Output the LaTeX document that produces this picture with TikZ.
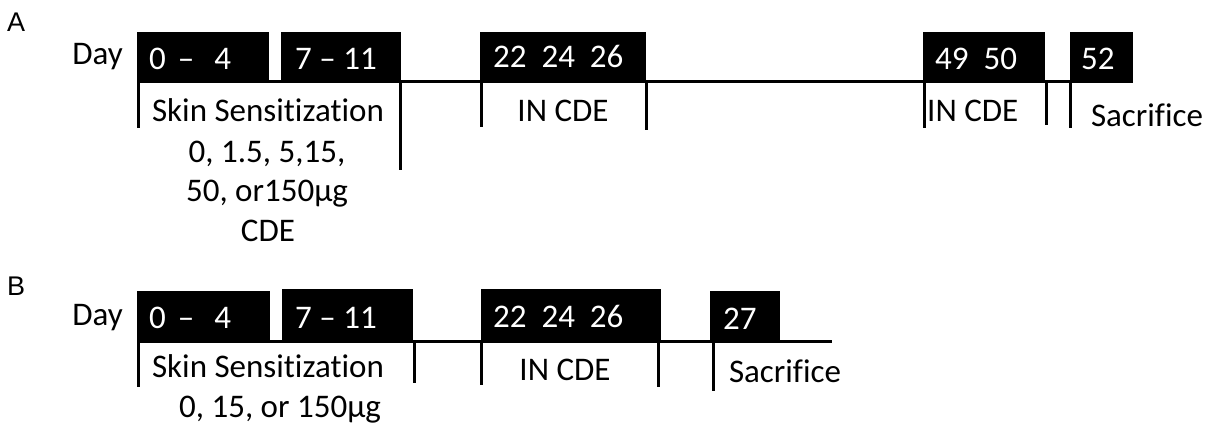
\documentclass[tikz,border=0pt]{standalone}
\usepackage{fontspec}
\setmainfont{Carlito}[Ligatures=NoCommon]
\newfontfamily\labfont{Liberation Sans}
\begin{document}
\begin{tikzpicture}[x=1pt,y=-1pt,
  blk/.style={fill=black},
  tl/.style={line width=3pt},
  tk/.style={line width=3pt},
  wt/.style={text=white,font=\fontsize{33}{36}\selectfont,anchor=base west,inner sep=0pt},
  bt/.style={font=\fontsize{33}{36}\selectfont,anchor=base,inner sep=0pt},
  pl/.style={font=\labfont\fontsize{27}{30}\selectfont,anchor=base west,inner sep=0pt},
  ]
\useasboundingbox (0,0) rectangle (1212,425);
% ---------- Panel A ----------
\node[pl] (labA) at (7,32) {A};
\fill[blk] (137,32) rectangle (269,83);
\fill[blk] (281,32) rectangle (401,83);
\fill[blk] (480,32) rectangle (646,83);
\fill[blk] (923,32) rectangle (1045,83);
\fill[blk] (1070,32) rectangle (1133,83);
\draw[tl] (137,82) -- (1133,82);
\draw[tk] (138.5,82) -- (138.5,128);
\draw[tk] (400,82) -- (400,170);
\draw[tk] (481,82) -- (481,127);
\draw[tk] (646,82) -- (646,130);
\draw[tk] (924,82) -- (924,128);
\draw[tk] (1046,82) -- (1046,125);
\draw[tk] (1070,82) -- (1070,128);
\node[wt] (a04) at (149,70) {0\hspace{12pt}–\hspace{20pt}4};
\node[wt] (a711) at (295,70) {7 – 11};
\node[wt] (a22) at (493,68) {22\ \ 24\ \ 26};
\node[wt] (a49) at (935,70) {49\ \ 50};
\node[wt] (a52) at (1081,70) {52};
\node[bt] (aday) at (97.5,65) {Day};
\node[bt] (ask1) at (268,122) {Skin Sensitization};
\node[bt] (ask2) at (267,162) {0, 1.5, 5,15,};
\node[bt] (ask3) at (267,201) {50, or150µg};
\node[bt] (ask4) at (268,241) {CDE};
\node[bt] (ain1) at (563,122) {IN CDE};
\node[bt,anchor=base west] (ain2) at (927,122) {IN CDE};
\node[bt] (asac) at (1147,127) {Sacrifice};
% ---------- Panel B ----------
\node[pl] (labB) at (7,295) {B};
\fill[blk] (137,291) rectangle (270,342);
\fill[blk] (282,289) rectangle (413,342);
\fill[blk] (481,289) rectangle (661,342);
\fill[blk] (710,291) rectangle (780,342);
\draw[tl] (137,341) -- (832,341);
\draw[tk] (138.5,341) -- (138.5,387);
\draw[tk] (414,341) -- (414,383);
\draw[tk] (481,341) -- (481,385);
\draw[tk] (658,341) -- (658,387);
\draw[tk] (713,341) -- (713,391);
\node[wt] (b04) at (149,328) {0\hspace{12pt}–\hspace{20pt}4};
\node[wt] (b711) at (295,328) {7 – 11};
\node[wt] (b22) at (493,327) {22\ \ 24\ \ 26};
\node[wt] (b27) at (723,329) {27};
\node[bt] (bday) at (97.5,325) {Day};
\node[bt] (bsk1) at (268,377) {Skin Sensitization};
\node[bt] (bsk2) at (280,417) {0, 15, or 150µg};
\node[bt] (bin) at (565,380) {IN CDE};
\node[bt] (bsac) at (785,382) {Sacrifice};
\end{tikzpicture}
\end{document}
